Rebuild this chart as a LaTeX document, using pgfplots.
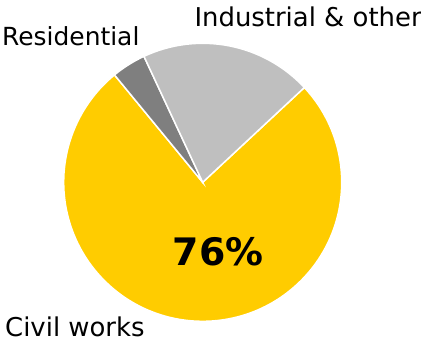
\documentclass[border=0pt]{standalone}
\usepackage{pgfplots}
\pgfplotsset{compat=1.18}
\usepackage{fontspec}
\setmainfont{DejaVu Sans}
\definecolor{civil}{HTML}{FFCC00}
\definecolor{resid}{HTML}{7F7F7F}
\definecolor{indus}{HTML}{BFBFBF}
% shares (%)
\def\vCivil{76}
\def\vResid{4}
\def\vIndus{20}
\def\startang{43}
\pgfmathsetmacro{\aA}{\startang}
\pgfmathsetmacro{\aB}{\aA-3.6*\vCivil}
\pgfmathsetmacro{\aC}{\aB-3.6*\vResid}
\pgfmathsetmacro{\aD}{\aC-3.6*\vIndus}
\begin{document}
\begin{tikzpicture}
\useasboundingbox (0,0) rectangle (421bp,341bp);
\begin{axis}[hide axis, x=1bp, y=1bp, xmin=-140, xmax=140, ymin=-140, ymax=140,
  anchor=origin, at={(202.7bp,158.7bp)}, clip=false]
\fill[civil, draw=white, line width=1.5bp] (axis cs:0,0) -- ++(\aA:139bp) arc[start angle=\aA, end angle=\aB, radius=139bp] -- cycle;
\fill[resid, draw=white, line width=1.5bp] (axis cs:0,0) -- ++(\aB:139bp) arc[start angle=\aB, end angle=\aC, radius=139bp] -- cycle;
\fill[indus, draw=white, line width=1.5bp] (axis cs:0,0) -- ++(\aC:139bp) arc[start angle=\aC, end angle=\aD, radius=139bp] -- cycle;
\end{axis}
\node[anchor=base west, inner sep=0, font=\fontsize{25}{30}\selectfont] at (2bp,295bp) {Residential};
\node[anchor=base west, inner sep=0, font=\fontsize{26}{30}\selectfont] at (194.3bp,314.3bp) {Industrial \& other};
\node[anchor=base west, inner sep=0, font=\fontsize{26}{30}\selectfont] at (5bp,5bp) {Civil works};
\node[anchor=base, inner sep=0, font=\fontsize{38}{44}\selectfont\bfseries] at (218bp,75.3bp) {76\%};
\end{tikzpicture}
\end{document}
